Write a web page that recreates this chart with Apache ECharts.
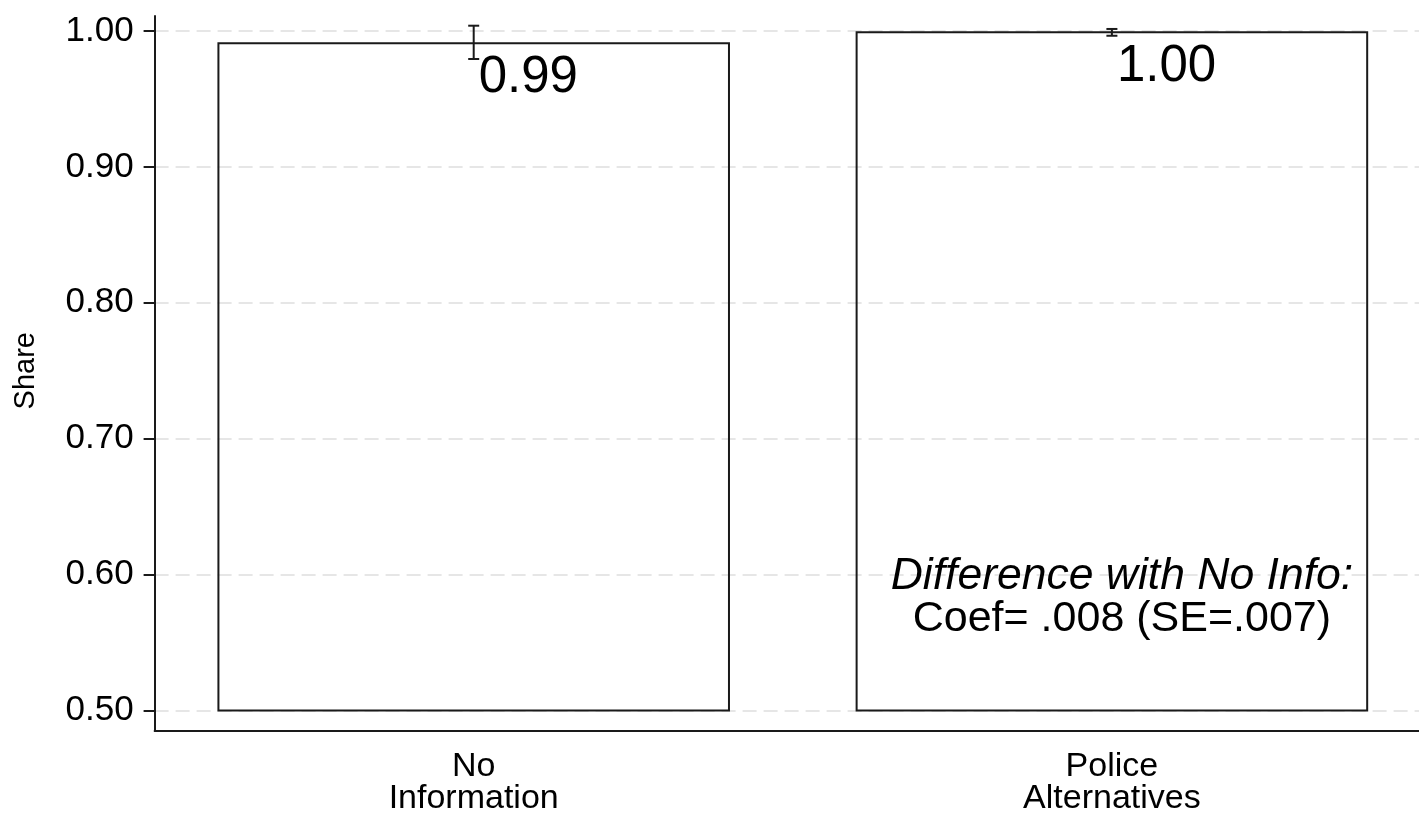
<!DOCTYPE html>
<html>
<head>
<meta charset="utf-8">
<script src="https://cdn.jsdelivr.net/npm/echarts@6/dist/echarts.min.js"></script>
<style>
  html, body { margin: 0; padding: 0; background: #fff; }
  #chart { width: 1419px; height: 815px; }
</style>
</head>
<body>
<div id="chart"></div>
<script>
// Treatment arms and the share of respondents in each, with 95% intervals
const categories = ['No\nInformation', 'Police\nAlternatives'];
const shares = [0.991, 0.999];
const ciLow = [0.9794, 0.9965];
const ciHigh = [1.0039, 1.0015];
const yTickValues = [0.5, 0.6, 0.7, 0.8, 0.9, 1.0];
const noteLines = ['Difference with No Info:', 'Coef= .008 (SE=.007)'];
const notePosition = [1, 0.583];
const BAR_BASE = 0.5;

const FONT = '"Liberation Sans", Arial, Helvetica, sans-serif';
const INK = '#1a1a1a';

const chart = echarts.init(document.getElementById('chart'));

// Outer frame: full axis extent (axis lines + category labels)
// Inner frame: the 0.50-1.00 scale with ticks, labels and grid lines.
// The plot runs a little past the right edge of the canvas.
const outerGrid = { left: 154.6, width: 1276.4, top: 16, bottom: 84, outerBoundsMode: 'none', containLabel: false };
const innerGrid = { left: 154.6, width: 1276.4, top: 31, bottom: 104.5, outerBoundsMode: 'none', containLabel: false };

chart.setOption({
  animation: false,
  backgroundColor: '#fff',
  grid: [outerGrid, innerGrid],
  xAxis: [
    {
      gridIndex: 0,
      type: 'category',
      data: categories,
      axisLine: { lineStyle: { color: INK, width: 2 } },
      axisTick: { alignWithLabel: true, length: 11, lineStyle: { color: INK, width: 2 } },
      axisLabel: { fontFamily: FONT, fontSize: 34, lineHeight: 32, color: '#000', margin: 19.5 },
      splitLine: { show: false }
    },
    {
      gridIndex: 1,
      type: 'category',
      data: categories,
      show: false
    }
  ],
  yAxis: [
    {
      gridIndex: 0,
      type: 'value',
      min: 0.4851,
      max: 1.011,
      axisLine: { show: true, lineStyle: { color: INK, width: 2 } },
      axisTick: { show: false },
      axisLabel: { show: false },
      splitLine: { show: false }
    },
    {
      gridIndex: 1,
      type: 'value',
      min: yTickValues[0],
      max: yTickValues[yTickValues.length - 1],
      interval: 0.1,
      name: 'Share',
      nameLocation: 'middle',
      nameGap: 114,
      nameTextStyle: { fontFamily: FONT, fontSize: 29, color: '#000' },
      axisLine: { show: false },
      axisTick: { show: true, length: 11, lineStyle: { color: INK, width: 2 } },
      axisLabel: {
        fontFamily: FONT, fontSize: 35, color: '#000', margin: 21,
        formatter: v => v.toFixed(2)
      },
      splitLine: { show: true, lineStyle: { color: '#e6e6e6', width: 2, type: [14, 7] } }
    }
  ],
  series: [
    {
      // hollow bars rising from the 0.50 baseline
      type: 'custom',
      xAxisIndex: 1,
      yAxisIndex: 1,
      data: shares.map((v, i) => [i, v]),
      renderItem: (params, api) => {
        const top = api.coord([api.value(0), api.value(1)]);
        const base = api.coord([api.value(0), BAR_BASE]);
        const bw = api.size([1, 0])[0] * 0.8;
        return {
          type: 'rect',
          shape: { x: top[0] - bw / 2, y: top[1], width: bw, height: base[1] - top[1] },
          style: { fill: 'none', stroke: INK, lineWidth: 2 }
        };
      },
      z: 3
    },
    {
      // confidence intervals with capped ends
      type: 'custom',
      xAxisIndex: 1,
      yAxisIndex: 1,
      data: shares.map((v, i) => [i, ciLow[i], ciHigh[i]]),
      renderItem: (params, api) => {
        const lo = api.coord([api.value(0), api.value(1)]);
        const hi = api.coord([api.value(0), api.value(2)]);
        const cap = 5.5;
        const style = { stroke: INK, lineWidth: 2 };
        return {
          type: 'group',
          children: [
            { type: 'line', shape: { x1: lo[0], y1: lo[1], x2: hi[0], y2: hi[1] }, style },
            { type: 'line', shape: { x1: lo[0] - cap, y1: lo[1], x2: lo[0] + cap, y2: lo[1] }, style },
            { type: 'line', shape: { x1: hi[0] - cap, y1: hi[1], x2: hi[0] + cap, y2: hi[1] }, style }
          ]
        };
      },
      z: 4
    },
    {
      // value labels hanging just below each bar top
      type: 'custom',
      xAxisIndex: 1,
      yAxisIndex: 1,
      data: shares.map((v, i) => [i, v]),
      renderItem: (params, api) => {
        const p = api.coord([api.value(0), api.value(1)]);
        return {
          type: 'text',
          x: p[0] + 5,
          y: p[1] + 9,
          style: {
            text: api.value(1).toFixed(2),
            fontFamily: FONT, fontSize: 51, fill: '#000',
            align: 'left', verticalAlign: 'top'
          }
        };
      },
      z: 5
    },
    {
      // regression note inside the second bar
      type: 'custom',
      xAxisIndex: 1,
      yAxisIndex: 1,
      data: [notePosition],
      renderItem: (params, api) => {
        const p = api.coord([api.value(0), api.value(1)]);
        const cx = p[0] + 10;
        return {
          type: 'group',
          children: [
            {
              type: 'text', x: cx, y: p[1] - 21,
              style: {
                text: noteLines[0], fontFamily: FONT, fontSize: 44.5, fontStyle: 'italic',
                fill: '#000', align: 'center', verticalAlign: 'middle'
              }
            },
            {
              type: 'text', x: cx, y: p[1] + 21,
              style: {
                text: noteLines[1], fontFamily: FONT, fontSize: 43,
                fill: '#000', align: 'center', verticalAlign: 'middle'
              }
            }
          ]
        };
      },
      z: 5
    }
  ]
});
</script>
</body>
</html>
